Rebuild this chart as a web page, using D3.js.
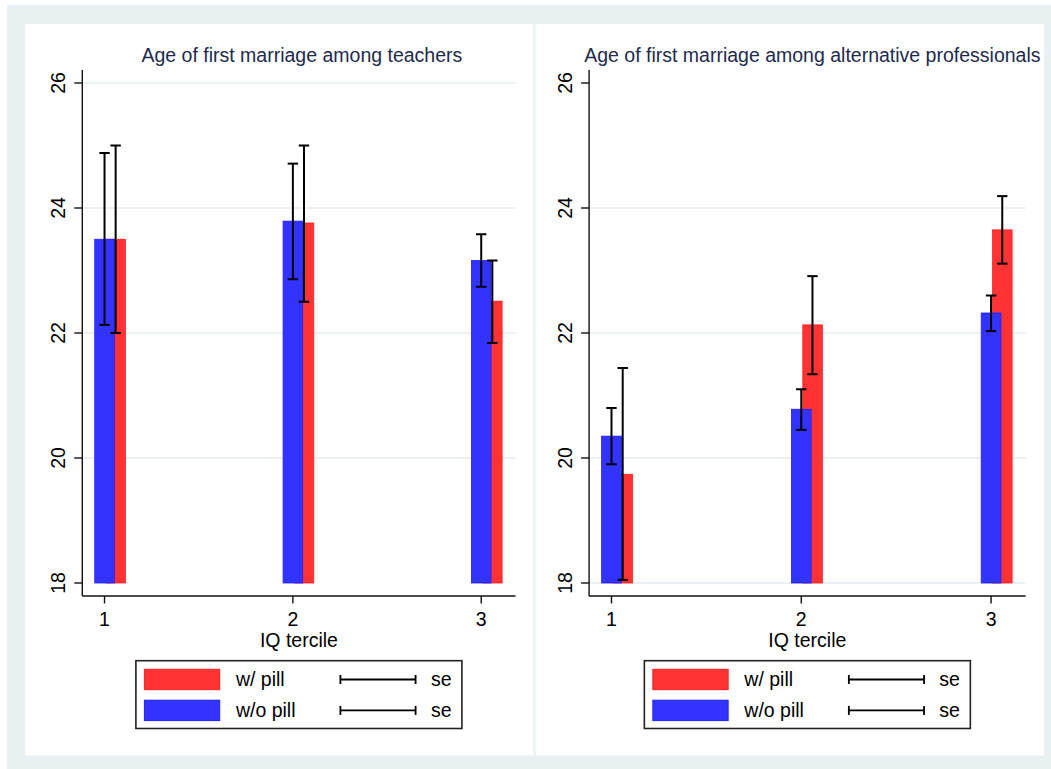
<!DOCTYPE html>
<html><head><meta charset="utf-8">
<script src="https://cdn.jsdelivr.net/npm/d3@7"></script>
<style>
body{margin:0;background:#fff}
text{font-family:"Liberation Sans",Arial,Helvetica,sans-serif}
</style></head>
<body>
<svg id="chart" width="1051" height="769"></svg>
<script>
// ---------------- data ----------------
const panelTitles = ["Age of first marriage among teachers", "Age of first marriage among alternative professionals"];
const terciles = [1, 2, 3];
const yTicks = [18, 20, 22, 24, 26];
const xTitle = "IQ tercile";
const seriesNames = ["w/ pill", "w/o pill"];
const seLabel = "se";

// teachers
const teachPill     = [23.50, 23.76, 22.51];
const teachPillLo   = [22.00, 22.50, 21.84];
const teachPillHi   = [25.00, 25.00, 23.16];
const teachNoPill   = [23.50, 23.79, 23.16];
const teachNoPillLo = [22.13, 22.86, 22.74];
const teachNoPillHi = [24.88, 24.71, 23.58];
// alternative professionals
const altPill     = [19.74, 22.13, 23.65];
const altPillLo   = [18.05, 21.34, 23.11];
const altPillHi   = [21.44, 22.91, 24.19];
const altNoPill   = [20.35, 20.78, 22.32];
const altNoPillLo = [19.90, 20.45, 22.03];
const altNoPillHi = [20.80, 21.10, 22.60];

const leftGrid = [20, 22, 24, 26];
const rightGrid = [18, 20, 22, 24];

// ---------------- layout ----------------
const C = {
  outer: "#e9f0f2", grid: "#e6eef1", title: "#1e2b4d",
  red: "#ff3333", redStroke: "#ff2020", blue: "#3333ff", blueStroke: "#2020ff"
};
const svg = d3.select("#chart");
svg.append("rect").attr("x", 7).attr("y", 5).attr("width", 1044).attr("height", 764).attr("fill", C.outer);
svg.append("rect").attr("x", 25).attr("y", 24).attr("width", 1019).attr("height", 731.5).attr("fill", "#fff");
svg.append("line").attr("x1", 534.5).attr("x2", 534.5).attr("y1", 24).attr("y2", 755.5)
  .attr("stroke", C.outer).attr("stroke-width", 2);

const panels = [
  {title: panelTitles[0], x0: 82.3, x1: 515.5, titleDx: 3, grid: leftGrid,
   pill: teachPill, pillLo: teachPillLo, pillHi: teachPillHi,
   no: teachNoPill, noLo: teachNoPillLo, noHi: teachNoPillHi},
  {title: panelTitles[1], x0: 589.1, x1: 1025.6, titleDx: 5, grid: rightGrid,
   pill: altPill, pillLo: altPillLo, pillHi: altPillHi,
   no: altNoPill, noLo: altNoPillLo, noHi: altNoPillHi}
];

const yTop = 70, yBot = 596;
const y = d3.scaleLinear().domain([17.792, 26.208]).range([yBot, yTop]);
const fs = 19.5;

panels.forEach(p => {
  const x = d3.scaleLinear().domain([0.882, 3.182]).range([p.x0, p.x1]);
  const g = svg.append("g");
  const cx = (p.x0 + p.x1) / 2;

  // gridlines
  g.selectAll(".grid").data(p.grid).enter().append("line")
    .attr("x1", p.x0).attr("x2", p.x1)
    .attr("y1", d => y(d)).attr("y2", d => y(d))
    .attr("stroke", C.grid).attr("stroke-width", 1.5);

  // title
  g.append("text").attr("x", cx + p.titleDx).attr("y", 62.3)
    .attr("text-anchor", "middle").attr("font-size", fs).attr("fill", C.title).text(p.title);

  // bars: red (w/ pill) behind, blue (w/o pill) in front
  const base = y(18);
  g.selectAll(".rbar").data(terciles).enter().append("rect")
    .attr("x", (d) => x(d + 0.008)).attr("width", x(1.111) - x(1.008))
    .attr("y", (d, i) => y(p.pill[i])).attr("height", (d, i) => base - y(p.pill[i]))
    .attr("fill", C.red).attr("stroke", C.redStroke).attr("stroke-width", 0.8);
  g.selectAll(".bbar").data(terciles).enter().append("rect")
    .attr("x", (d) => x(d - 0.052)).attr("width", x(1.052) - x(0.948))
    .attr("y", (d, i) => y(p.no[i])).attr("height", (d, i) => base - y(p.no[i]))
    .attr("fill", C.blue).attr("stroke", C.blueStroke).attr("stroke-width", 0.8);

  // error bars
  function errBars(off, lo, hi) {
    const eg = g.append("g").attr("stroke", "#000").attr("stroke-width", 2).attr("fill", "none");
    terciles.forEach((t, i) => {
      const ex = x(t + off);
      eg.append("line").attr("x1", ex).attr("x2", ex).attr("y1", y(lo[i])).attr("y2", y(hi[i]));
      [lo[i], hi[i]].forEach(v => {
        eg.append("line").attr("x1", ex - 5.2).attr("x2", ex + 5.2).attr("y1", y(v)).attr("y2", y(v));
      });
    });
  }
  errBars(0, p.noLo, p.noHi);
  errBars(0.059, p.pillLo, p.pillHi);

  // y axis
  g.append("line").attr("x1", p.x0).attr("x2", p.x0).attr("y1", yTop).attr("y2", yBot)
    .attr("stroke", "#111").attr("stroke-width", 1.4);
  g.selectAll(".ytick").data(yTicks).enter().append("line")
    .attr("x1", p.x0 - 8).attr("x2", p.x0).attr("y1", d => y(d)).attr("y2", d => y(d))
    .attr("stroke", "#111").attr("stroke-width", 1.4);
  g.selectAll(".ylab").data(yTicks).enter().append("text")
    .attr("transform", d => `translate(${p.x0 - 17.4},${y(d)}) rotate(-90)`)
    .attr("text-anchor", "middle").attr("font-size", fs).attr("fill", "#000").text(d => d);

  // x axis
  g.append("line").attr("x1", p.x0).attr("x2", p.x1).attr("y1", yBot).attr("y2", yBot)
    .attr("stroke", "#111").attr("stroke-width", 1.4);
  g.selectAll(".xtick").data(terciles).enter().append("line")
    .attr("x1", d => x(d)).attr("x2", d => x(d)).attr("y1", yBot).attr("y2", yBot + 7.5)
    .attr("stroke", "#111").attr("stroke-width", 1.4);
  g.selectAll(".xlab").data(terciles).enter().append("text")
    .attr("x", d => x(d)).attr("y", 626).attr("text-anchor", "middle")
    .attr("font-size", fs).attr("fill", "#000").text(d => d);
  g.append("text").attr("x", cx).attr("y", 647).attr("text-anchor", "middle")
    .attr("font-size", fs).attr("fill", "#000").text(xTitle);

  // legend
  const lw = 326, lx = cx - lw / 2, ly = 660.7;
  const lg = g.append("g");
  lg.append("rect").attr("x", lx).attr("y", ly).attr("width", lw).attr("height", 67.8)
    .attr("fill", "#fff").attr("stroke", "#222").attr("stroke-width", 1.6);
  const rows = [
    {name: seriesNames[0], fill: C.red, stroke: C.redStroke, cy: 679.5},
    {name: seriesNames[1], fill: C.blue, stroke: C.blueStroke, cy: 710.4}
  ];
  rows.forEach(r => {
    lg.append("rect").attr("x", lx + 8.5).attr("y", r.cy - 10.2).attr("width", 75.3).attr("height", 20.4)
      .attr("fill", r.fill).attr("stroke", r.stroke).attr("stroke-width", 1);
    lg.append("text").attr("x", lx + 100).attr("y", r.cy + 6.8).attr("font-size", fs).attr("fill", "#000").text(r.name);
    const s0 = lx + 204.5, s1 = lx + 279.7;
    lg.append("line").attr("x1", s0).attr("x2", s1).attr("y1", r.cy).attr("y2", r.cy).attr("stroke", "#000").attr("stroke-width", 1.8);
    [s0, s1].forEach(sx => lg.append("line").attr("x1", sx).attr("x2", sx).attr("y1", r.cy - 4.5).attr("y2", r.cy + 4.5)
      .attr("stroke", "#000").attr("stroke-width", 1.8));
    lg.append("text").attr("x", lx + 295).attr("y", r.cy + 6.8).attr("font-size", fs).attr("fill", "#000").text(seLabel);
  });
});
</script>
</body></html>
